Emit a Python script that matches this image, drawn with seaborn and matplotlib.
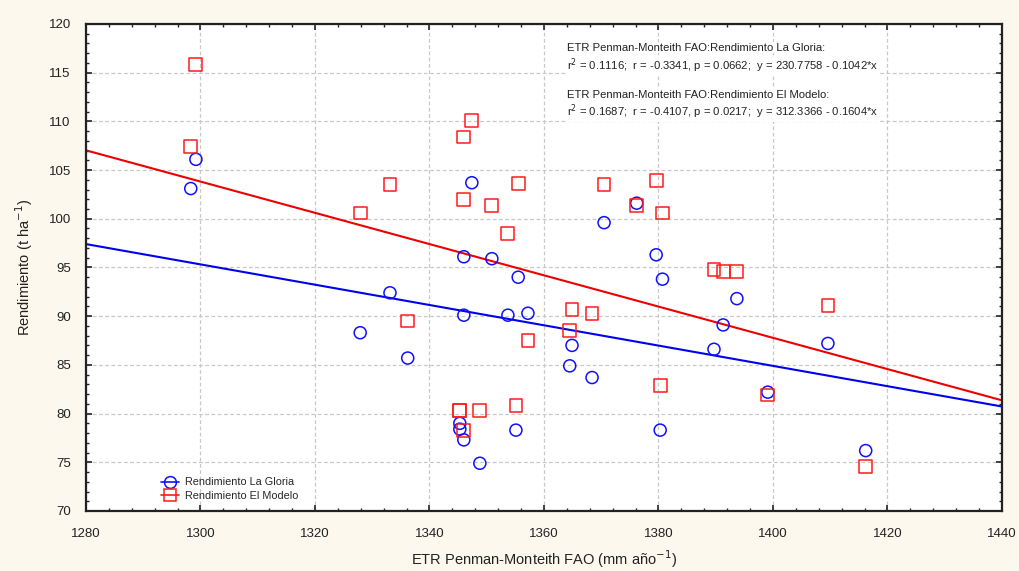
import matplotlib
matplotlib.use("Agg")
import matplotlib.pyplot as plt
from matplotlib.ticker import MultipleLocator
from matplotlib.lines import Line2D
import numpy as np
import pandas as pd
import seaborn as sns

# ---- data ----
etr = [1298.3, 1299.2, 1327.9, 1333.1, 1336.2, 1345.3, 1345.3, 1346.0, 1346.0, 1346.0,
       1347.4, 1348.8, 1350.9, 1353.7, 1355.1, 1355.5, 1357.2, 1364.5, 1364.9, 1368.4,
       1370.5, 1376.2, 1379.6, 1380.3, 1380.7, 1389.7, 1391.3, 1393.7, 1399.1, 1409.6,
       1416.2]
gloria = [103.1, 106.1, 88.3, 92.4, 85.7, 79.0, 78.4, 77.3, 96.1, 90.1,
          103.7, 74.9, 95.9, 90.1, 78.3, 94.0, 90.3, 84.9, 87.0, 83.7,
          99.6, 101.6, 96.3, 78.3, 93.8, 86.6, 89.1, 91.8, 82.2, 87.2,
          76.2]
modelo = [107.4, 115.8, 100.6, 103.5, 89.5, 80.3, 80.3, 78.3, 102.0, 108.4,
          110.1, 80.3, 101.4, 98.5, 80.8, 103.6, 87.5, 88.5, 90.7, 90.3,
          103.5, 101.4, 103.9, 82.9, 100.6, 94.8, 94.6, 94.6, 81.9, 91.1,
          74.6]
# regression coefficients printed on the chart
fit_gloria = (230.7758, -0.1042)
fit_modelo = (312.3366, -0.1604)
x_ticks = [1280, 1300, 1320, 1340, 1360, 1380, 1400, 1420, 1440]
y_ticks = [70, 75, 80, 85, 90, 95, 100, 105, 110, 115, 120]

df = pd.DataFrame({"etr": etr, "gloria": gloria, "modelo": modelo})
xline = np.array([x_ticks[0], x_ticks[-1]], dtype=float)
lines = pd.DataFrame({
    "x": xline,
    "g": fit_gloria[0] + fit_gloria[1] * xline,
    "m": fit_modelo[0] + fit_modelo[1] * xline,
})

sns.set_style("white")
plt.rcParams["font.family"] = ["Liberation Sans", "DejaVu Sans"]

BLUE = "#1010ff"
RED = "#ff1a1a"
BG = "#fcf8ee"
INK = "#222222"

fig = plt.figure(figsize=(10.2, 5.71), dpi=100, facecolor=BG)
ax = fig.add_axes([0.0843, 0.1051, 0.898, 0.853])
ax.set_facecolor("white")

sns.lineplot(data=lines, x="x", y="g", color="#0000ee", lw=1.5, ax=ax, zorder=2)
sns.lineplot(data=lines, x="x", y="m", color="#ee0000", lw=1.5, ax=ax, zorder=2)

sns.scatterplot(data=df, x="etr", y="gloria", marker="o", s=75, facecolor="none",
                edgecolor=BLUE, linewidth=1.1, ax=ax, zorder=3)
sns.scatterplot(data=df, x="etr", y="modelo", marker="s", s=85, facecolor="none",
                edgecolor=RED, linewidth=1.1, ax=ax, zorder=3)

ax.set_xlim(x_ticks[0], x_ticks[-1])
ax.set_ylim(y_ticks[0], y_ticks[-1])
ax.set_xticks(x_ticks)
ax.set_yticks(y_ticks)
ax.xaxis.set_minor_locator(MultipleLocator(4))
ax.yaxis.set_minor_locator(MultipleLocator(1))
ax.tick_params(which="both", direction="in", top=True, right=True,
               bottom=True, left=True, color=INK)
ax.tick_params(which="major", length=4, width=1.2)
ax.tick_params(which="minor", length=2, width=1.0)
ax.tick_params(axis="x", which="major", pad=12, labelsize=9.5, labelcolor=INK)
ax.tick_params(axis="y", which="major", pad=11, labelsize=9.5, labelcolor=INK)
ax.grid(True, which="major", linestyle=(0, (3, 2)), color="#c8c8c8", lw=0.9)
ax.set_axisbelow(True)
for sp in ax.spines.values():
    sp.set_visible(True)
    sp.set_color(INK)
    sp.set_linewidth(1.6)

ax.set_xlabel("ETR Penman-Monteith FAO (mm año$^{-1}$)", fontsize=10.5,
              color=INK, labelpad=6)
ax.set_ylabel("Rendimiento (t ha$^{-1}$)", fontsize=10.5, color=INK, labelpad=10)

notes = [
    ("ETR Penman-Monteith FAO:Rendimiento La Gloria:", 0.951),
    ("r$^2$ = 0.1116;  r = -0.3341, p = 0.0662;  y = 230.7758 - 0.1042*x", 0.914),
    ("ETR Penman-Monteith FAO:Rendimiento El Modelo:", 0.855),
    ("r$^2$ = 0.1687;  r = -0.4107, p = 0.0217;  y = 312.3366 - 0.1604*x", 0.819),
]
for s, yy in notes:
    ax.text(0.525, yy, s, transform=ax.transAxes, ha="left", va="center",
            fontsize=8.1, color=INK,
            bbox=dict(facecolor="white", edgecolor="none", pad=0.5))

handles = [
    Line2D([], [], color=BLUE, marker="o", markersize=8.5, markerfacecolor="none",
           markeredgewidth=1.1, lw=1.2, label="Rendimiento La Gloria"),
    Line2D([], [], color=RED, marker="s", markersize=8.5, markerfacecolor="none",
           markeredgewidth=1.1, lw=1.2, label="Rendimiento El Modelo"),
]
ax.legend(handles=handles, loc="lower left", bbox_to_anchor=(0.075, 0.008),
          frameon=False, fontsize=7.8, handlelength=1.6, handletextpad=0.6,
          labelspacing=0.3, borderaxespad=0.2)

fig.savefig("out.png", dpi=100, facecolor=BG)
